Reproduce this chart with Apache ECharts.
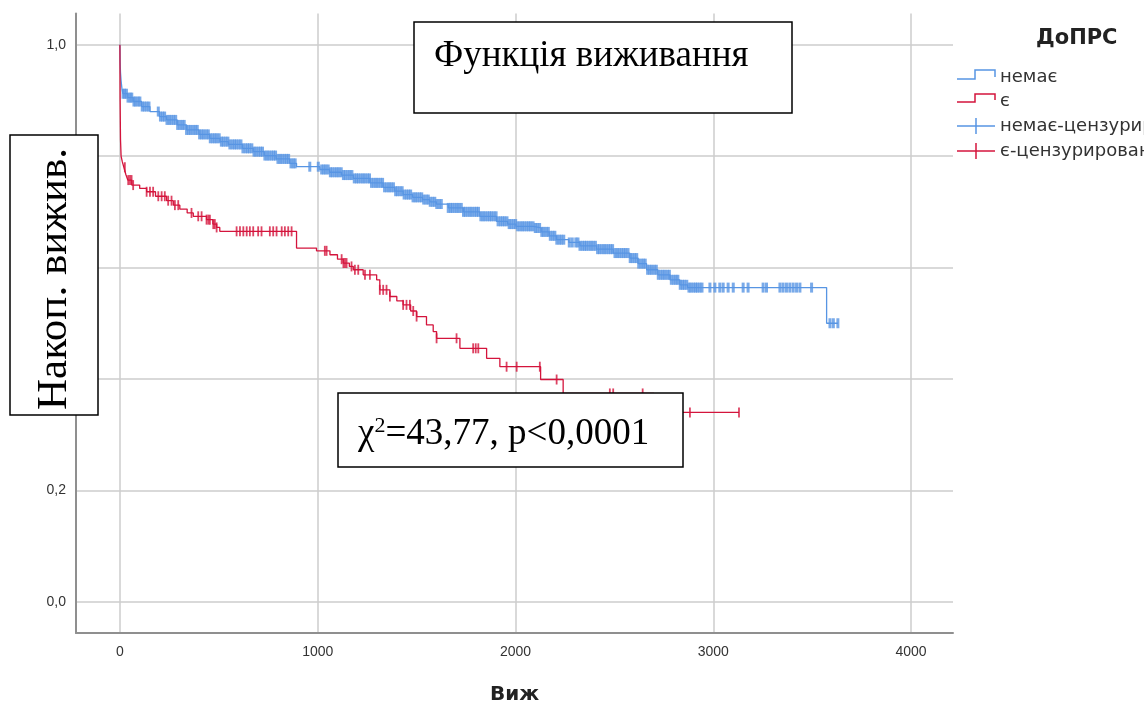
<!DOCTYPE html>
<html>
<head>
<meta charset="utf-8">
<script src="https://cdn.jsdelivr.net/npm/echarts@6/dist/echarts.min.js"></script>
<style>html,body{margin:0;padding:0;background:#fff;}#c{width:1144px;height:709px;}</style>
</head>
<body>
<div id="c"></div>
<script>
// ---- data ----
const xTicks = [0, 1000, 2000, 3000, 4000];
const yTicks = [0, 0.2, 0.4, 0.6, 0.8, 1.0];

// Kaplan-Meier step curve: group "немає"
const blueTimes = [0,1,3,6,10,15,40,67,110,152,200,236,290,337,400,455,506,548,620,674,730,790,859,893,1011,1060,1120,1180,1264,1330,1390,1432,1480,1530,1567,1600,1660,1736,1820,1904,1960,2002,2090,2130,2170,2208,2270,2326,2410,2494,2578,2620,2663,2720,2781,2831,2870,3573,3630];
const blueSurv = [1,0.97,0.95,0.935,0.922,0.912,0.905,0.898,0.889,0.880,0.871,0.865,0.856,0.847,0.839,0.832,0.826,0.821,0.814,0.808,0.801,0.795,0.787,0.781,0.776,0.771,0.766,0.760,0.752,0.744,0.737,0.731,0.726,0.722,0.718,0.714,0.707,0.700,0.692,0.683,0.678,0.674,0.671,0.664,0.657,0.650,0.645,0.639,0.633,0.626,0.617,0.607,0.596,0.587,0.578,0.569,0.564,0.500,0.500];

// Kaplan-Meier step curve: group "є"
const redTimes = [0,1,3,6,12,20,30,40,60,100,135,180,236,270,303,340,371,438,470,489,505,893,994,1062,1100,1129,1160,1180,1230,1298,1314,1365,1400,1432,1470,1500,1550,1584,1601,1719,1854,1921,2127,2241,2700,3130];
const redSurv = [1,0.90,0.83,0.80,0.79,0.78,0.767,0.757,0.748,0.742,0.736,0.728,0.72,0.712,0.705,0.698,0.692,0.686,0.678,0.672,0.665,0.635,0.630,0.623,0.615,0.608,0.602,0.596,0.587,0.578,0.560,0.548,0.540,0.533,0.522,0.512,0.497,0.485,0.473,0.455,0.437,0.422,0.399,0.374,0.340,0.340];

// censored observation times
const blueCensor = [
16,24,33,41,52,60,71,80,92,101,113,124,136,147,
194,205,216,226,238,249,259,271,282,292,304,315,325,337,348,358,370,381,391,403,414,424,436,447,457,469,480,490,502,513,523,535,546,556,568,579,589,601,612,622,634,645,655,667,678,688,700,711,721,733,744,754,766,777,787,799,810,820,832,843,853,865,876,886,
960,1003,
1020,1031,1041,1053,1064,1074,1086,1097,1107,1119,1130,1140,1152,1163,1173,1185,1196,1206,1218,1229,1239,1251,1262,1272,1284,1295,1305,1317,1328,1338,1350,1361,1371,1383,1394,1404,1416,1427,1437,1449,1460,1470,1482,1493,1503,1515,1526,1536,1548,1559,1569,1581,1592,1602,1614,1625,
1660,1671,1681,1693,1704,1714,1726,1737,1747,1759,1770,1780,1792,1803,1813,1825,1836,1846,1858,1869,1879,1891,1902,1912,1924,1935,1945,1957,1968,1978,1990,2001,2011,2023,2034,2044,2056,2067,2077,2089,2100,2110,2122,2133,2143,2155,2166,2176,2188,2199,2209,2221,2232,2244,
2272,2287,
2305,2316,2326,2338,2349,2359,2371,2382,2392,2404,2415,2425,2437,2448,2458,2470,2481,2491,2503,2514,2524,2536,2547,2557,2569,2580,2590,2602,2613,2623,2635,2646,2656,2668,2679,2689,2701,2712,2722,2734,2745,2755,2767,2778,2788,2800,2811,2821,2833,2844,2854,2866,2877,2887,2899,2910,2920,2932,2943,
2983,3008,3033,3050,3075,3101,3151,3176,3252,3269,3337,3353,3370,3387,3404,3421,3438,3497,3590,3607,3630];
const redCensor = [25,42,51,59,67,135,152,168,194,211,227,244,261,278,295,362,396,413,438,447,455,472,480,489,590,607,624,641,657,674,699,716,758,775,792,818,834,851,868,1036,1045,1121,1130,1138,1146,1171,1188,1205,1239,1264,1314,1331,1348,1365,1432,1449,1466,1483,1500,1601,1702,1786,1799,1812,1955,2006,2123,2208,2477,2494,2643,2882,3130];

const legendTitle = 'ДоПРС';
const legendNames = ['немає', 'є', 'немає-цензурировано', 'є-цензурировано'];

// ---- build ----
const BLUE = '#5795e3', RED = '#d4143c';
function pairs(t, s) { return t.map((v, i) => [v, s[i]]); }
function survAt(t, s, x) { let v = s[0]; for (let i = 0; i < t.length; i++) { if (t[i] <= x) v = s[i]; } return v; }

const chart = echarts.init(document.getElementById('c'), null, { renderer: 'canvas' });
const fmt = v => (Math.round(v * 10) / 10).toFixed(1).replace('.', ',');
const serif = 'Liberation Serif, Times New Roman, serif';
const sans = 'Liberation Sans, Arial, sans-serif';
const wide = 'DejaVu Sans, Verdana, sans-serif';

chart.setOption({
  animation: false,
  backgroundColor: '#fff',
  grid: { left: 76, right: 191, top: 13.5, bottom: 76, containLabel: false, outerBoundsMode: 'none' },
  xAxis: {
    type: 'value', min: -222, max: 4212,
    axisLine: { onZero: false, lineStyle: { color: '#8f8f8f', width: 2 } },
    axisTick: { show: false, customValues: xTicks },
    axisLabel: { customValues: xTicks, formatter: v => String(v), color: '#333', fontSize: 14, fontFamily: sans, margin: 12 },
    splitLine: { show: true, lineStyle: { color: '#cccccc', width: 1.5 } },
    name: 'Виж', nameLocation: 'middle', nameGap: 52,
    nameTextStyle: { fontSize: 20, fontWeight: 'bold', color: '#222', fontFamily: wide }
  },
  yAxis: {
    type: 'value', min: -0.056, max: 1.056,
    axisLine: { show: true, onZero: false, lineStyle: { color: '#8f8f8f', width: 2 } },
    axisTick: { show: false, customValues: yTicks },
    axisLabel: { customValues: yTicks, formatter: fmt, color: '#333', fontSize: 14, fontFamily: sans, margin: 10 },
    splitLine: { show: true, lineStyle: { color: '#cccccc', width: 1.5 } }
  },
  series: [
    { name: legendNames[0], type: 'line', step: 'end', data: pairs(blueTimes, blueSurv), showSymbol: false,
      lineStyle: { color: BLUE, width: 1.3 }, itemStyle: { color: BLUE }, z: 2 },
    { name: legendNames[2], type: 'scatter', data: blueCensor.map(t => [t, survAt(blueTimes, blueSurv, t)]),
      symbol: 'rect', symbolSize: [3, 10], itemStyle: { color: BLUE }, z: 3 },
    { name: legendNames[1], type: 'line', step: 'end', data: pairs(redTimes, redSurv), showSymbol: false,
      lineStyle: { color: RED, width: 1.3 }, itemStyle: { color: RED }, z: 4 },
    { name: legendNames[3], type: 'scatter', data: redCensor.map(t => [t, survAt(redTimes, redSurv, t)]),
      symbol: 'rect', symbolSize: [1.8, 10], itemStyle: { color: RED }, z: 5 }
  ],
  graphic: [
    // legend (drawn manually to reproduce SPSS icons)
    { type: 'text', x: 1036, y: 39, z: 100, style: { text: legendTitle, fontSize: 21, fontWeight: 'bold', fontFamily: wide, fill: '#222', verticalAlign: 'middle' } },
    { type: 'polyline', z: 100, shape: { points: [[957, 79], [975, 79], [975, 70], [995, 70], [995, 77]] }, style: { stroke: BLUE, fill: null, lineWidth: 1.5 } },
    { type: 'text', x: 1000, y: 77, z: 100, style: { text: legendNames[0], fontSize: 18, fontFamily: wide, fill: '#333', verticalAlign: 'middle' } },
    { type: 'polyline', z: 100, shape: { points: [[957, 102], [975, 102], [975, 94], [995, 94], [995, 100]] }, style: { stroke: RED, fill: null, lineWidth: 1.5 } },
    { type: 'text', x: 1000, y: 101, z: 100, style: { text: legendNames[1], fontSize: 18, fontFamily: wide, fill: '#333', verticalAlign: 'middle' } },
    { type: 'line', z: 100, shape: { x1: 957, y1: 126, x2: 995, y2: 126 }, style: { stroke: BLUE, lineWidth: 1.5 } },
    { type: 'line', z: 100, shape: { x1: 976, y1: 118, x2: 976, y2: 134 }, style: { stroke: BLUE, lineWidth: 1.5 } },
    { type: 'text', x: 1000, y: 126, z: 100, style: { text: legendNames[2], fontSize: 18, fontFamily: wide, fill: '#333', verticalAlign: 'middle' } },
    { type: 'line', z: 100, shape: { x1: 957, y1: 151, x2: 995, y2: 151 }, style: { stroke: RED, lineWidth: 1.5 } },
    { type: 'line', z: 100, shape: { x1: 976, y1: 143, x2: 976, y2: 159 }, style: { stroke: RED, lineWidth: 1.5 } },
    { type: 'text', x: 1000, y: 151, z: 100, style: { text: legendNames[3], fontSize: 18, fontFamily: wide, fill: '#333', verticalAlign: 'middle' } },
    // title box
    { type: 'rect', z: 100, shape: { x: 414, y: 22, width: 378, height: 91 }, style: { fill: '#fff', stroke: '#000', lineWidth: 1.5 } },
    { type: 'text', x: 434, y: 56, z: 101, style: { text: 'Функція виживання', fontSize: 37, fontFamily: serif, fill: '#000', verticalAlign: 'middle' } },
    // y title box
    { type: 'rect', z: 100, shape: { x: 10, y: 135, width: 88, height: 280 }, style: { fill: '#fff', stroke: '#000', lineWidth: 1.5 } },
    { type: 'text', x: 55, y: 279, rotation: Math.PI / 2, z: 101, style: { text: 'Накоп. вижив.', fontSize: 43, fontFamily: serif, fill: '#000', align: 'center', verticalAlign: 'middle' } },
    // statistic box
    { type: 'rect', z: 100, shape: { x: 338, y: 393, width: 345, height: 74 }, style: { fill: '#fff', stroke: '#000', lineWidth: 1.5 } },
    { type: 'text', x: 358, y: 434, z: 101, style: {
        text: '{a|χ}{s|2}{a|=43,77, p<0,0001}', verticalAlign: 'middle',
        rich: { a: { fontSize: 37, fontFamily: serif, fill: '#000' }, s: { fontSize: 22, fontFamily: serif, fill: '#000', verticalAlign: 'top' } } } }
  ]
});
</script>
</body>
</html>
